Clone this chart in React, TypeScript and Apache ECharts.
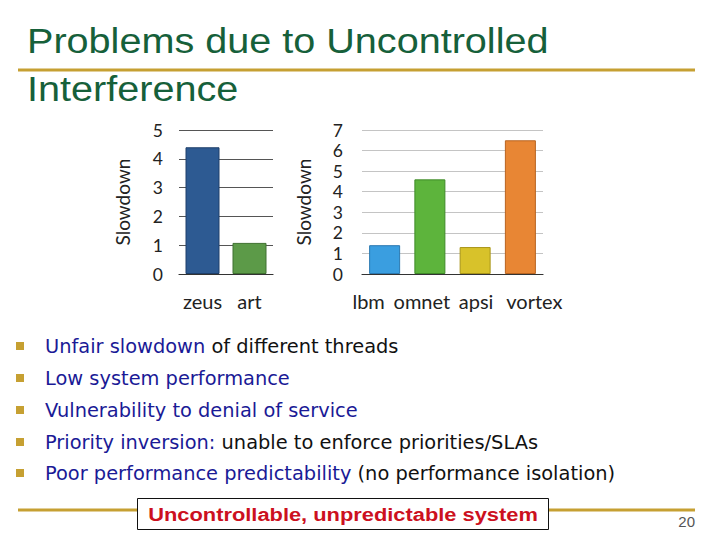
import React, { useEffect, useRef } from "react";
import * as echarts from "echarts";

const leftCategories = ["zeus", "art"];
const leftValues = [4.4, 1.08];
const leftColors = ["#2d5a92", "#5c9a48"];
const leftBorders = ["#1e3f6a", "#3f7030"];
const leftMax = 5;

const rightCategories = ["lbm", "omnet", "apsi", "vortex"];
const rightValues = [1.4, 4.6, 1.31, 6.5];
const rightColors = ["#3a9ee0", "#5db43c", "#d8c22a", "#e88634"];
const rightBorders = ["#2a78b0", "#3f8a28", "#a89418", "#b86420"];
const rightMax = 7;
// horizontal nudge of each right-hand category label (px), as in the picture
const rightLabelShift = [-16, -8, 1, 14];

const axisName = "Slowdown";

const titleLines = ["Problems due to Uncontrolled", "Interference"];

const bullets: { blue: string; black: string }[] = [
  { blue: "Unfair slowdown", black: " of different threads" },
  { blue: "Low system performance", black: "" },
  { blue: "Vulnerability to denial of service", black: "" },
  { blue: "Priority inversion:", black: " unable to enforce priorities/SLAs" },
  { blue: "Poor performance predictability", black: " (no performance isolation)" },
];

const boxText = "Uncontrollable, unpredictable system";
const pageNumber = "20";

const GOLD = "#c6a032";
const FONT = "Lato, 'Open Sans', sans-serif";

export default function App() {
  const ref = useRef<HTMLDivElement>(null);

  useEffect(() => {
    if (!ref.current) return;
    const chart = echarts.init(ref.current, undefined, { renderer: "svg" });

    const yAxisCommon = (max: number, gridColor: string, margin: number, gap: number) => ({
      type: "value",
      min: 0,
      max,
      interval: 1,
      axisLine: { show: false },
      axisTick: { show: false },
      axisLabel: { color: "#222", fontSize: 17.5, fontFamily: FONT, margin },
      splitLine: { show: true, lineStyle: { color: gridColor, width: 1 } },
      name: axisName,
      nameLocation: "middle",
      nameGap: gap,
      nameRotate: 90,
      nameTextStyle: { color: "#222", fontSize: 19, fontFamily: FONT },
    });

    const xAxisCommon = (cats: any[]) => ({
      type: "category",
      data: cats,
      axisLine: { show: true, lineStyle: { color: "#333", width: 1.2 } },
      axisTick: { show: false },
      axisLabel: { color: "#222", fontSize: 20, fontFamily: FONT, margin: 17, interval: 0 },
    });

    const rightCatItems = rightCategories.map((c, i) => {
      const s = rightLabelShift[i];
      return {
        value: c,
        textStyle: { padding: s < 0 ? [0, -2 * s, 0, 0] : [0, 0, 0, 2 * s] },
      };
    });

    const graphics: any[] = [];
    // title
    titleLines.forEach((t, i) => {
      graphics.push({
        type: "text",
        x: 27,
        y: i === 0 ? 41 : 89,
        scaleX: 1.1,
        style: {
          text: t,
          fill: "#16603a",
          font: "36px 'Liberation Sans', Arial, sans-serif",
          verticalAlign: "middle",
        },
      });
    });
    graphics.push({
      type: "rect",
      shape: { x: 18, y: 68.5, width: 677, height: 3 },
      style: { fill: GOLD },
    });

    // bullets
    const rowY = [346, 378, 410, 442, 473];
    bullets.forEach((b, i) => {
      graphics.push({
        type: "rect",
        shape: { x: 16, y: rowY[i] - 4, width: 8, height: 8 },
        style: { fill: GOLD },
      });
      graphics.push({
        type: "text",
        x: 45,
        y: rowY[i],
        style: {
          text: "{b|" + b.blue + "}" + (b.black ? "{k|" + b.black + "}" : ""),
          verticalAlign: "middle",
          rich: {
            b: { fill: "#1a1a96", fontSize: 19.4, fontFamily: "'DejaVu Sans', sans-serif" },
            k: { fill: "#111", fontSize: 19.4, fontFamily: "'DejaVu Sans', sans-serif" },
          },
          font: "19.4px 'DejaVu Sans', sans-serif",
        },
      });
    });

    // bottom line and box
    graphics.push({
      type: "rect",
      shape: { x: 18, y: 508.5, width: 677, height: 3 },
      style: { fill: GOLD },
    });
    graphics.push({
      type: "rect",
      shape: { x: 137.5, y: 498.5, width: 411, height: 31 },
      style: { fill: "#fff", stroke: "#111", lineWidth: 1 },
    });
    graphics.push({
      type: "text",
      x: 343,
      y: 514,
      scaleX: 1.15,
      style: {
        text: boxText,
        fill: "#cc1020",
        font: "bold 19px 'Liberation Sans', Arial, sans-serif",
        align: "center",
        verticalAlign: "middle",
      },
    });
    graphics.push({
      type: "text",
      x: 695,
      y: 521,
      style: {
        text: pageNumber,
        fill: "#555",
        font: "15px 'Liberation Sans', Arial, sans-serif",
        align: "right",
        verticalAlign: "middle",
      },
    });

    chart.setOption({
      animation: false,
      backgroundColor: "#fff",
      grid: [
        { left: 179, top: 130, width: 94, height: 144 },
        { left: 362, top: 130, width: 181, height: 144 },
      ],
      xAxis: [
        { ...xAxisCommon(leftCategories), gridIndex: 0 },
        { ...xAxisCommon(rightCatItems), gridIndex: 1 },
      ],
      yAxis: [
        { ...yAxisCommon(leftMax, "#555", 16, 47), gridIndex: 0 },
        { ...yAxisCommon(rightMax, "#c4c4c4", 19, 49), gridIndex: 1 },
      ],
      series: [
        {
          type: "bar",
          xAxisIndex: 0,
          yAxisIndex: 0,
          barWidth: 34,
          data: leftValues.map((v, i) => ({
            value: v,
            itemStyle: { color: leftColors[i], borderColor: leftBorders[i], borderWidth: 1 },
          })),
        },
        {
          type: "bar",
          xAxisIndex: 1,
          yAxisIndex: 1,
          barWidth: 31,
          data: rightValues.map((v, i) => ({
            value: v,
            itemStyle: { color: rightColors[i], borderColor: rightBorders[i], borderWidth: 1 },
          })),
        },
      ],
      graphic: graphics,
    });

    return () => chart.dispose();
  }, []);

  return (
    <div
      ref={ref}
      style={{ position: "fixed", left: 0, top: 0, width: 720, height: 540 }}
    />
  );
}
